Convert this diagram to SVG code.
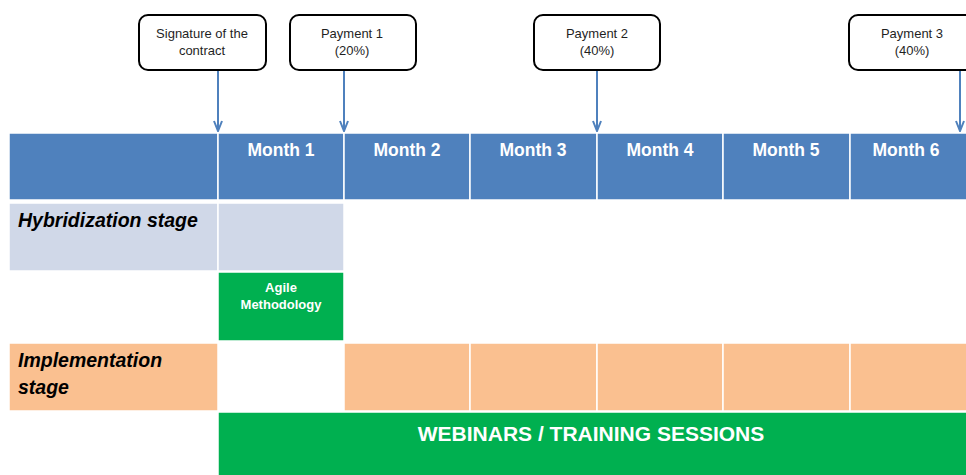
<svg xmlns="http://www.w3.org/2000/svg" width="966" height="475" viewBox="0 0 966 475">
<defs>
<style>
.hdr{fill:#4F81BD}
.hyb{fill:#D0D8E8}
.imp{fill:#FAC090}
.grn{fill:#00B050}
.cell{stroke:#FFFFFF;stroke-width:1.5}
.mt{font-family:"Liberation Sans",Arial,sans-serif;font-weight:bold;font-size:17.5px;fill:#FFFFFF;text-anchor:middle}
.st{font-family:"Liberation Sans",Arial,sans-serif;font-weight:bold;font-style:italic;font-size:19.5px;fill:#000000}
.cb{fill:#FFFFFF;stroke:#000000;stroke-width:2}
.ct{font-family:"Liberation Sans",Arial,sans-serif;font-size:13px;fill:#1F1F1F;text-anchor:middle}
.conn{stroke:#4F81BD;stroke-width:2;fill:none}
</style>
<marker id="ah" viewBox="0 0 12 10" refX="11" refY="5" markerWidth="12" markerHeight="10" markerUnits="userSpaceOnUse" orient="auto">
<path d="M1,1 L11,5 L1,9" fill="none" stroke="#4F81BD" stroke-width="2"/>
</marker>
</defs>
<rect x="0" y="0" width="966" height="475" fill="#FFFFFF"/>
<g id="grid">
<rect class="hdr cell" x="9" y="133" width="209" height="67"/>
<rect class="hdr cell" x="218" y="133" width="126" height="67"/>
<rect class="hdr cell" x="344" y="133" width="126" height="67"/>
<rect class="hdr cell" x="470" y="133" width="127" height="67"/>
<rect class="hdr cell" x="597" y="133" width="126" height="67"/>
<rect class="hdr cell" x="723" y="133" width="127" height="67"/>
<rect class="hdr cell" x="850" y="133" width="126" height="67"/>
<text class="mt" x="281" y="156">Month 1</text>
<text class="mt" x="407" y="156">Month 2</text>
<text class="mt" x="533" y="156">Month 3</text>
<text class="mt" x="660" y="156">Month 4</text>
<text class="mt" x="786" y="156">Month 5</text>
<text class="mt" x="906" y="156">Month 6</text>
</g>
<g id="hybridization">
<rect class="hyb cell" x="9" y="203" width="209" height="68"/>
<rect class="hyb cell" x="218" y="203" width="126" height="68"/>
<text class="st" x="18" y="227">Hybridization stage</text>
</g>
<g id="agile">
<rect class="grn cell" x="218" y="272" width="126" height="69"/>
<text class="mt" x="281" y="292" style="font-size:13px">Agile</text>
<text class="mt" x="281" y="309" style="font-size:13px">Methodology</text>
</g>
<g id="implementation">
<rect class="imp cell" x="9" y="343" width="209" height="68"/>
<rect class="imp cell" x="344" y="343" width="126" height="68"/>
<rect class="imp cell" x="470" y="343" width="127" height="68"/>
<rect class="imp cell" x="597" y="343" width="126" height="68"/>
<rect class="imp cell" x="723" y="343" width="127" height="68"/>
<rect class="imp cell" x="850" y="343" width="126" height="68"/>
<text class="st" x="18" y="367">Implementation</text>
<text class="st" x="18" y="394">stage</text>
</g>
<g id="webinars">
<rect class="grn cell" x="218" y="412" width="758" height="70"/>
<text class="mt" x="591" y="441" style="font-size:21px">WEBINARS / TRAINING SESSIONS</text>
</g>
<g id="connectors">
<line class="conn" x1="218" y1="70" x2="218" y2="131" marker-end="url(#ah)"/>
<line class="conn" x1="344" y1="70" x2="344" y2="131" marker-end="url(#ah)"/>
<line class="conn" x1="597" y1="70" x2="597" y2="131" marker-end="url(#ah)"/>
<line class="conn" x1="960" y1="70" x2="960" y2="131" marker-end="url(#ah)"/>
</g>
<g id="signature">
<rect class="cb" x="139" y="15" width="127" height="55" rx="9"/>
<text class="ct" x="202" y="38">Signature of the</text>
<text class="ct" x="202" y="55">contract</text>
</g>
<g id="payment1">
<rect class="cb" x="290" y="15" width="126" height="55" rx="9"/>
<text class="ct" x="352" y="38">Payment 1</text>
<text class="ct" x="352" y="55">(20%)</text>
</g>
<g id="payment2">
<rect class="cb" x="534" y="15" width="126" height="55" rx="9"/>
<text class="ct" x="597" y="38">Payment 2</text>
<text class="ct" x="597" y="55">(40%)</text>
</g>
<g id="payment3">
<rect class="cb" x="849" y="15" width="126" height="55" rx="9"/>
<text class="ct" x="912" y="38">Payment 3</text>
<text class="ct" x="912" y="55">(40%)</text>
</g>
</svg>
